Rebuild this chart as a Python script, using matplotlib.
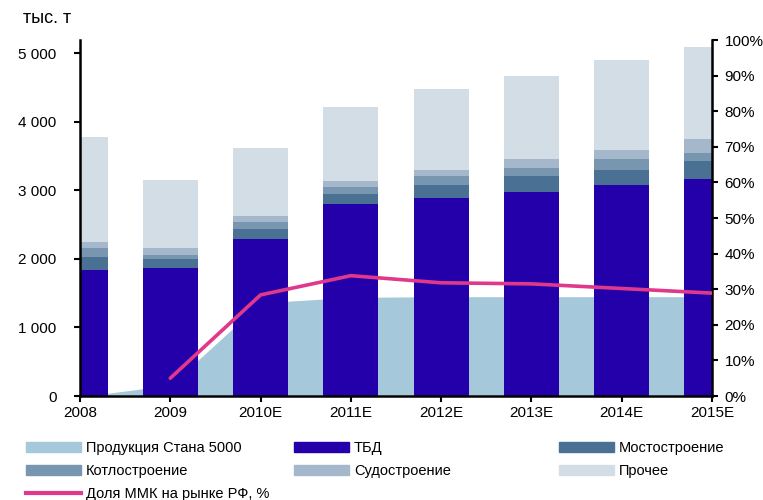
import matplotlib
matplotlib.use("Agg")
import matplotlib.pyplot as plt
import matplotlib.patches as mpatches
import matplotlib.lines as mlines
import numpy as np

plt.rcParams['font.family'] = ['Liberation Sans', 'DejaVu Sans']

years = ['2008', '2009', '2010E', '2011E', '2012E', '2013E', '2014E', '2015E']
stan5000 = [0, 170, 1370, 1450, 1460, 1460, 1460, 1460]
tbd = [1840, 1865, 2290, 2800, 2890, 2975, 3075, 3165]
most = [190, 130, 145, 145, 190, 235, 220, 260]
kotlo = [130, 60, 100, 100, 130, 115, 160, 115]
sudo = [90, 100, 90, 90, 90, 130, 130, 205]
prochee = [1530, 990, 990, 1080, 1180, 1210, 1310, 1340]
mmk_share = [np.nan, 5, 28.4, 33.8, 31.8, 31.5, 30.2, 28.9]

c_stan = '#A5C8DA'
c_tbd = '#2400AA'
c_most = '#4A7094'
c_kotlo = '#7896B0'
c_sudo = '#A5B8CB'
c_proch = '#D3DDE6'
c_line = '#E0388A'

fig = plt.figure(figsize=(7.63, 5.0), dpi=100)
ax = fig.add_axes([80 / 763, 1 - 396 / 500, (712 - 80) / 763, (396 - 40) / 500])
x = np.arange(len(years))

ax.fill_between(x, stan5000, color=c_stan, edgecolor='white', linewidth=1.2, zorder=1)

bottom = np.zeros(len(years))
for vals, col in [(tbd, c_tbd), (most, c_most), (kotlo, c_kotlo), (sudo, c_sudo), (prochee, c_proch)]:
    ax.bar(x, vals, bottom=bottom, width=0.61, color=col, zorder=2)
    bottom += np.array(vals)

ax.set_xlim(0, 7)
ax.set_ylim(0, 5190)
ax.set_yticks([0, 1000, 2000, 3000, 4000, 5000])
ax.set_yticklabels(['0', '1 000', '2 000', '3 000', '4 000', '5 000'])
ax.set_xticks(x)
ax.set_xticklabels(years)

ax2 = ax.twinx()
ax2.plot(x, mmk_share, color=c_line, linewidth=2.6, solid_capstyle='round', zorder=5)
ax2.set_ylim(0, 100)
ax2.set_yticks(np.arange(0, 101, 10))
ax2.set_yticklabels([f'{v}%' for v in range(0, 101, 10)])

for a in (ax, ax2):
    a.spines['top'].set_visible(False)
    for s in ('left', 'right', 'bottom'):
        a.spines[s].set_linewidth(1.8)
ax.spines['right'].set_visible(False)
ax2.spines['left'].set_visible(False)
ax2.spines['bottom'].set_visible(False)

ax.tick_params(axis='y', direction='out', length=4, width=1.5, labelsize=11, pad=13)
ax.tick_params(axis='x', direction='out', length=4, width=1.5, labelsize=11, pad=3)
ax2.tick_params(axis='y', direction='out', length=4, width=1.5, labelsize=11, pad=5)

fig.text(23 / 763, 1 - 23 / 500, 'тыс. т', fontsize=13, ha='left', va='baseline')

leg_kw = dict(loc='upper left', frameon=False, borderpad=0, borderaxespad=0,
              handlelength=3.8, handleheight=0.7, handletextpad=0.3,
              labelspacing=0.62, fontsize=10.5)

col1 = [mpatches.Patch(color=c_stan, label='Продукция Стана 5000'),
        mpatches.Patch(color=c_kotlo, label='Котлостроение'),
        mlines.Line2D([], [], color=c_line, linewidth=3, label='Доля ММК на рынке РФ, %')]
col2 = [mpatches.Patch(color=c_tbd, label='ТБД'),
        mpatches.Patch(color=c_sudo, label='Судостроение')]
col3 = [mpatches.Patch(color=c_most, label='Мостостроение'),
        mpatches.Patch(color=c_proch, label='Прочее')]

top = 1 - 441 / 500
for handles, xl in [(col1, 26), (col2, 294), (col3, 559)]:
    fig.legend(handles=handles, bbox_to_anchor=(xl / 763, top), **leg_kw)

fig.savefig('out.png', dpi=100)
